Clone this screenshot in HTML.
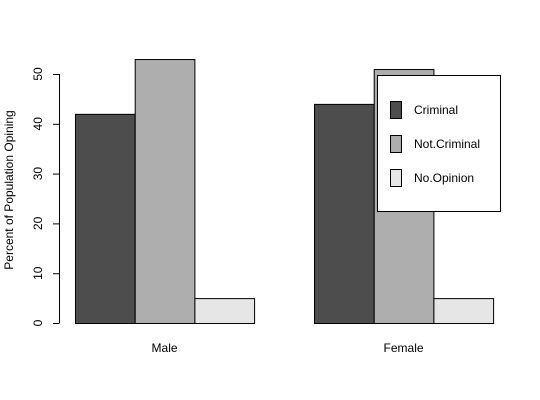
<!DOCTYPE html>
<html><head><meta charset="utf-8"><style>body{margin:0;background:#fff}svg{display:block}</style></head>
<body>
<svg id="chart" width="540" height="400" font-family="Liberation Sans, sans-serif" font-size="12"></svg>
<script>
const groups = ["Male", "Female"];
const series = ["Criminal", "Not.Criminal", "No.Opinion"];
const criminal = [42, 44];
const notCriminal = [53, 51];
const noOpinion = [5, 5];
const yTicks = [0, 10, 20, 30, 40, 50];

const colors = ["#4d4d4d", "#aeaeae", "#e6e6e6"];
const vals = [criminal, notCriminal, noOpinion];
const svg = document.getElementById('chart');
const NS = 'http://www.w3.org/2000/svg';
function y(v){ return 323 - v * (323 - 74) / 50; }
function groupX(g){ return 75 + g * 239; }
const bw = 59.7;
function mk(tag, attrs, text){
  const e = document.createElementNS(NS, tag);
  for (const k in attrs) e.setAttribute(k, attrs[k]);
  if (text !== undefined) e.textContent = text;
  svg.appendChild(e);
  return e;
}
groups.forEach((g, gi) => {
  vals.forEach((arr, si) => {
    const x0 = groupX(gi) + si * bw;
    const r = mk('rect', {x: x0 + 0.5, y: y(arr[gi]) + 0.5, width: bw, height: y(0) - y(arr[gi]), fill: colors[si], stroke: '#000', 'stroke-width': 1});
    
    
  });
  const t = mk('text', {x: groupX(gi) + 1.5 * bw, y: 352, 'text-anchor': 'middle'}, g);
  
  
});
const ax = mk('line', {x1: 59.5, x2: 59.5, y1: y(0), y2: y(50), stroke: '#000'});


yTicks.forEach(v => {
  const tk = mk('line', {x1: 53, x2: 59.5, y1: y(v) + 0.5, y2: y(v) + 0.5, stroke: '#000'});
  
  
  const lb = mk('text', {x: 0, y: 0, 'text-anchor': 'middle', transform: 'translate(42,' + y(v) + ') rotate(-90)'}, String(v));
  
  
});
const yt = mk('text', {x: 0, y: 0, 'text-anchor': 'middle', transform: 'translate(13,190) rotate(-90)'}, 'Percent of Population Opining');


const lg = mk('rect', {x: 377.5, y: 75.5, width: 123, height: 136, fill: '#fff', stroke: '#000'});


series.forEach((s, i) => {
  const sw = mk('rect', {x: 390.5, y: 101.5 + i * 34, width: 11, height: 17, fill: colors[i], stroke: '#000'});
  
  
  const tx = mk('text', {x: 414, y: 114 + i * 34}, s);
  
  
});
</script>
</body></html>
